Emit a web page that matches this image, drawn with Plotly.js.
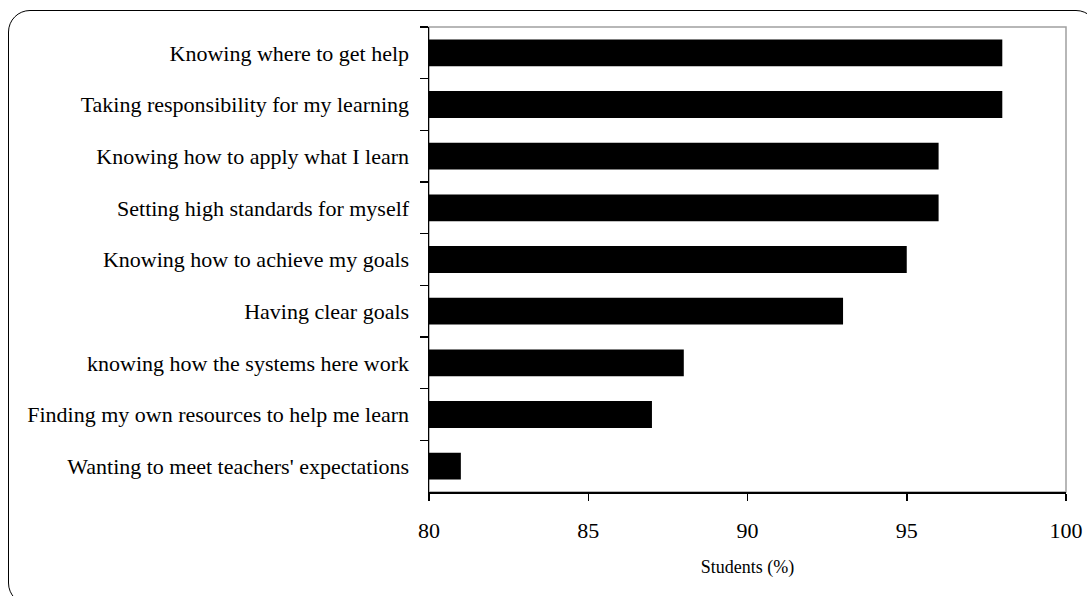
<!DOCTYPE html>
<html>
<head>
<meta charset="utf-8">
<script src="https://cdn.plot.ly/plotly-3.0.1.min.js"></script>
<style>
  html, body { margin: 0; padding: 0; background: #fff; }
  #wrap { position: relative; width: 1087px; height: 596px; overflow: hidden; }
  #frame { position: absolute; left: 8px; top: 10px; width: 1090px; height: 595px;
           border: 1.5px solid #000; border-radius: 22px; box-sizing: border-box; }
  #chart { position: absolute; left: 0; top: 0; width: 1087px; height: 596px; }
</style>
</head>
<body>
<div id="wrap">
  <div id="frame"></div>
  <div id="chart"></div>
</div>
<script>
const categories = [
  "Knowing where to get help",
  "Taking responsibility for my learning",
  "Knowing how to apply what I learn",
  "Setting high standards for myself",
  "Knowing how to achieve my goals",
  "Having clear goals",
  "knowing how the systems here work",
  "Finding my own resources to help me learn",
  "Wanting to meet teachers' expectations"
];
const values = [98, 98, 96, 96, 95, 93, 88, 87, 81];
const xTickValues = [80, 85, 90, 95, 100];
const xTitle = "Students (%)";

const font = "'Liberation Serif', 'Times New Roman', serif";

const trace = {
  type: "bar",
  orientation: "h",
  x: values,
  y: categories,
  marker: { color: "#000000", line: { width: 0 } },
  hoverinfo: "x+y"
};

const layout = {
  width: 1087,
  height: 596,
  margin: { l: 429, r: 21, t: 27, b: 104 },
  paper_bgcolor: "rgba(0,0,0,0)",
  plot_bgcolor: "rgba(0,0,0,0)",
  showlegend: false,
  bargap: 0.48,
  font: { family: font, color: "#000" },
  xaxis: {
    range: [80, 100],
    tickvals: xTickValues,
    ticktext: xTickValues.map(String),
    showgrid: false,
    zeroline: false,
    showline: true,
    linecolor: "#000",
    linewidth: 1.5,
    ticks: "outside",
    ticklen: 7,
    tickwidth: 1.5,
    tickcolor: "#000",
    ticklabelstandoff: 11,
    tickfont: { family: font, size: 22, color: "#000" },
    title: { text: xTitle, font: { family: font, size: 18, color: "#000" }, standoff: 18 }
  },
  yaxis: {
    type: "category",
    autorange: "reversed",
    showgrid: false,
    zeroline: false,
    showline: true,
    linecolor: "#000",
    linewidth: 1.5,
    ticks: "outside",
    tickson: "boundaries",
    ticklen: 8,
    tickwidth: 1.5,
    tickcolor: "#000",
    ticklabelstandoff: 14,
    tickfont: { family: font, size: 22, color: "#000" }
  },
  shapes: [
    { type: "rect", xref: "x domain", yref: "y domain", x0: 0, x1: 1, y0: 0, y1: 1,
      line: { color: "#a0a0a0", width: 1.5 }, layer: "below" }
  ]
};

Plotly.newPlot("chart", [trace], layout, { displayModeBar: false, staticPlot: true });
</script>
</body>
</html>
